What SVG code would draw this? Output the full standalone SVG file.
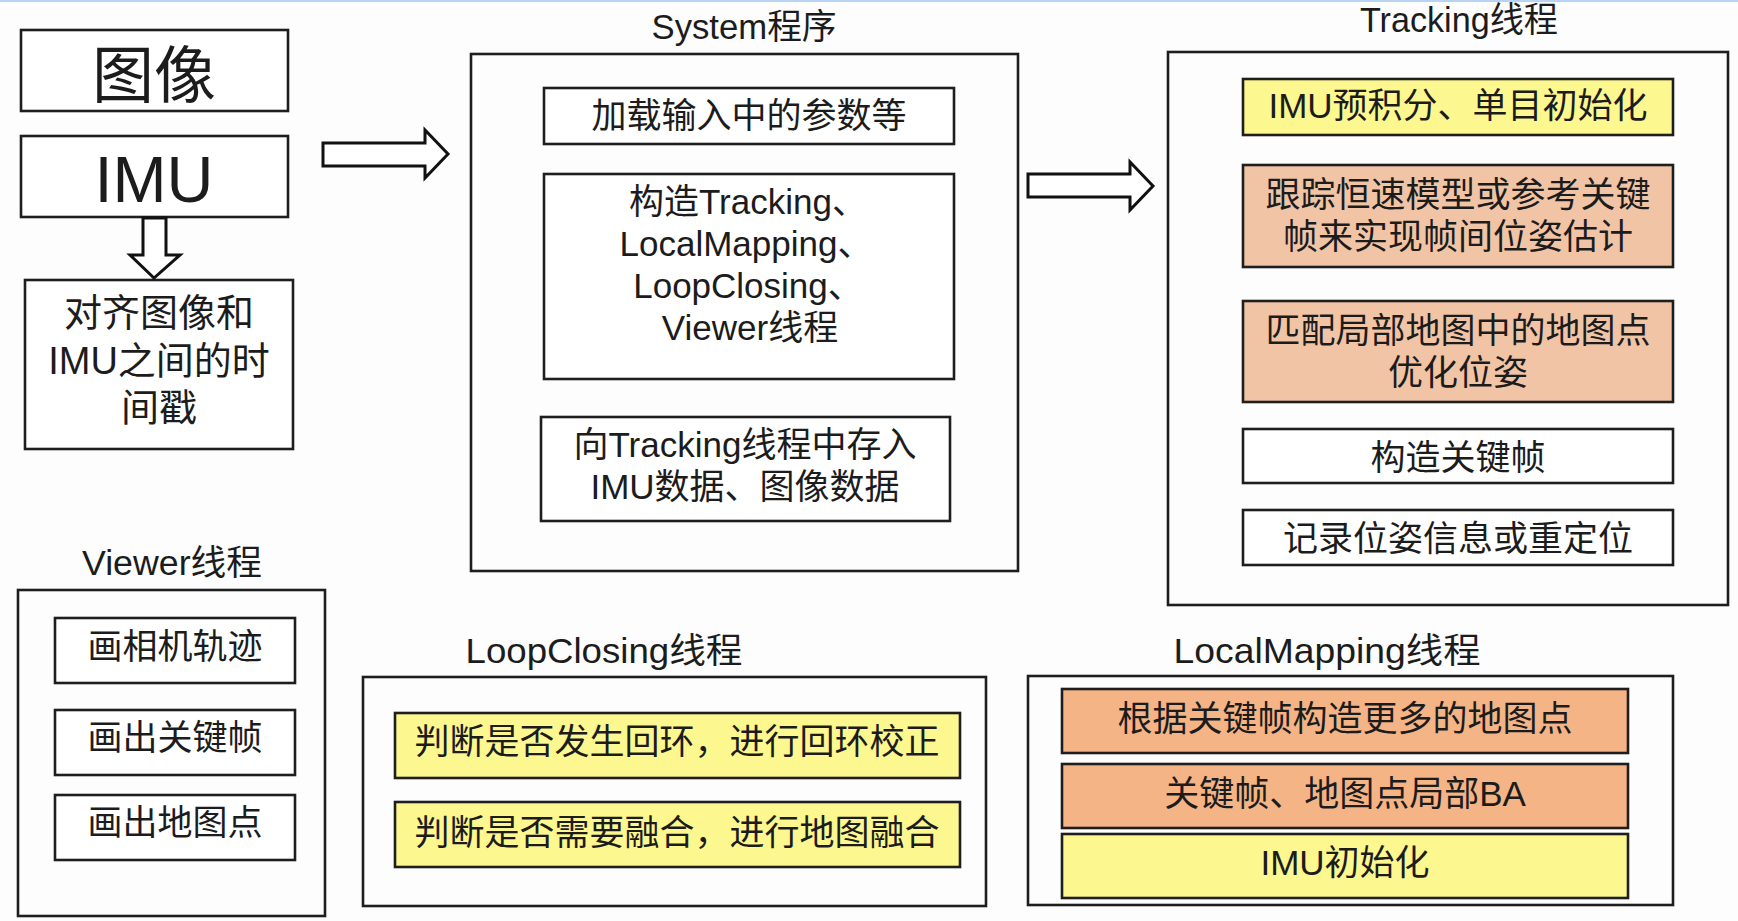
<svg xmlns="http://www.w3.org/2000/svg" width="1738" height="921" viewBox="0 0 1738 921">
<style>
  .bg{fill:#fdfdfd}
  .box{fill:#ffffff;stroke:#1e1e1e;stroke-width:2.6}
  .frame{fill:none;stroke:#1e1e1e;stroke-width:2.6}
  .yel{fill:#fcf78e;stroke:#1e1e1e;stroke-width:2.6}
  .peach{fill:#f2c4a6;stroke:#1e1e1e;stroke-width:2.6}
  .orange{fill:#f5b485;stroke:#1e1e1e;stroke-width:2.6}
  .arrow{fill:#ffffff;stroke:#111111;stroke-width:3;stroke-linejoin:miter}
  text{font-family:"Liberation Sans","Noto Sans CJK SC",sans-serif;fill:#1c1c1c;text-anchor:middle}
  .t35{font-size:35px}
  .title{font-size:35px}
  .t38{font-size:38px}
  .big{font-size:62px}
  .bigl{font-size:65px}
</style>
<rect class="bg" x="0" y="0" width="1738" height="921"/>
<rect x="0" y="0" width="1738" height="2" fill="#b7d4f4"/>

<g id="input-image">
  <rect class="box" x="21" y="30" width="267" height="81"/>
  <text class="big" x="154" y="98">图像</text>
</g>
<g id="input-imu">
  <rect class="box" x="21" y="136" width="267" height="81"/>
  <text class="bigl" x="154" y="202" textLength="119" lengthAdjust="spacingAndGlyphs">IMU</text>
</g>
<g id="align-timestamps">
  <rect class="box" x="25" y="280" width="268" height="169"/>
  <text class="t38"><tspan x="159" y="326">对齐图像和</tspan><tspan x="159" y="374">IMU之间的时</tspan><tspan x="159" y="421">间戳</tspan></text>
</g>

<g id="system">
  <text class="title" x="744" y="39" textLength="185" lengthAdjust="spacingAndGlyphs">System程序</text>
  <rect class="frame" x="471" y="54" width="547" height="517"/>
  <g id="sys-load">
    <rect class="box" x="544" y="88" width="410" height="56"/>
    <text class="t35" x="749" y="128">加载输入中的参数等</text>
  </g>
  <g id="sys-construct">
    <rect class="box" x="544" y="174" width="410" height="205"/>
    <text class="t35"><tspan x="748" y="214">构造Tracking、</tspan><tspan x="746" y="256">LocalMapping、</tspan><tspan x="748" y="298">LoopClosing、</tspan><tspan x="750" y="340">Viewer线程</tspan></text>
  </g>
  <g id="sys-feed">
    <rect class="box" x="541" y="417" width="409" height="104"/>
    <text class="t35"><tspan x="745" y="457">向Tracking线程中存入</tspan><tspan x="745" y="499">IMU数据、图像数据</tspan></text>
  </g>
</g>

<g id="tracking">
  <text class="title" x="1459" y="32" textLength="198" lengthAdjust="spacingAndGlyphs">Tracking线程</text>
  <rect class="frame" x="1168" y="52" width="560" height="553"/>
  <g id="trk-imu">
    <rect class="yel" x="1243" y="79" width="430" height="56"/>
    <text class="t35" x="1458" y="118">IMU预积分、单目初始化</text>
  </g>
  <g id="trk-track">
    <rect class="peach" x="1243" y="165" width="430" height="102"/>
    <text class="t35"><tspan x="1458" y="207">跟踪恒速模型或参考关键</tspan><tspan x="1458" y="249">帧来实现帧间位姿估计</tspan></text>
  </g>
  <g id="trk-local">
    <rect class="peach" x="1243" y="301" width="430" height="101"/>
    <text class="t35"><tspan x="1458" y="343">匹配局部地图中的地图点</tspan><tspan x="1458" y="385">优化位姿</tspan></text>
  </g>
  <g id="trk-kf">
    <rect class="box" x="1243" y="429" width="430" height="54"/>
    <text class="t35" x="1458" y="470">构造关键帧</text>
  </g>
  <g id="trk-record">
    <rect class="box" x="1243" y="510" width="430" height="55"/>
    <text class="t35" x="1458" y="551">记录位姿信息或重定位</text>
  </g>
</g>

<g id="viewer">
  <text class="title" x="172" y="575" textLength="180" lengthAdjust="spacingAndGlyphs">Viewer线程</text>
  <rect class="frame" x="18" y="590" width="307" height="326"/>
  <g id="vw-traj">
    <rect class="box" x="55" y="618" width="240" height="65"/>
    <text class="t35" x="175" y="659">画相机轨迹</text>
  </g>
  <g id="vw-kf">
    <rect class="box" x="55" y="710" width="240" height="65"/>
    <text class="t35" x="175" y="750">画出关键帧</text>
  </g>
  <g id="vw-mp">
    <rect class="box" x="55" y="795" width="240" height="65"/>
    <text class="t35" x="175" y="835">画出地图点</text>
  </g>
</g>

<g id="loopclosing">
  <text class="title" x="604" y="663" textLength="277" lengthAdjust="spacingAndGlyphs">LoopClosing线程</text>
  <rect class="frame" x="363" y="677" width="623" height="229"/>
  <g id="lc-loop">
    <rect class="yel" x="395" y="713" width="565" height="65"/>
    <text class="t35" x="677" y="754">判断是否发生回环，进行回环校正</text>
  </g>
  <g id="lc-merge">
    <rect class="yel" x="395" y="802" width="565" height="65"/>
    <text class="t35" x="677" y="845">判断是否需要融合，进行地图融合</text>
  </g>
</g>

<g id="localmapping">
  <text class="title" x="1327" y="663" textLength="307" lengthAdjust="spacingAndGlyphs">LocalMapping线程</text>
  <rect class="frame" x="1028" y="676" width="645" height="229"/>
  <g id="lm-points">
    <rect class="orange" x="1062" y="689" width="566" height="64"/>
    <text class="t35" x="1345" y="731">根据关键帧构造更多的地图点</text>
  </g>
  <g id="lm-ba">
    <rect class="orange" x="1062" y="764" width="566" height="64"/>
    <text class="t35" x="1345" y="806">关键帧、地图点局部BA</text>
  </g>
  <g id="lm-imu">
    <rect class="yel" x="1062" y="834" width="566" height="64"/>
    <text class="t35" x="1345" y="875">IMU初始化</text>
  </g>
</g>

<g id="connectors">
  <polygon class="arrow" points="323,143 425,143 425,130 448,154 425,178 425,166 323,166"/>
  <polygon class="arrow" points="1028,174 1130,174 1130,162 1153,186 1130,210 1130,197 1028,197"/>
  <polygon class="arrow" points="143,218 166,218 166,255 180,255 154,278 130,255 143,255"/>
</g>
</svg>
